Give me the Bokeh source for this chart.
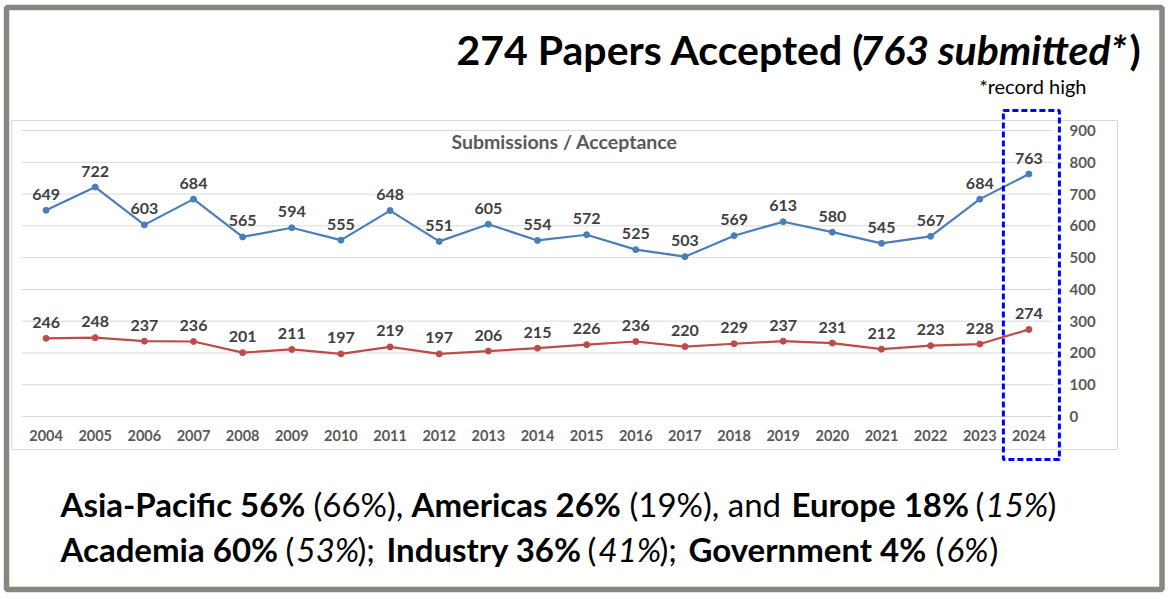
from bokeh.plotting import figure
from bokeh.models import (ColumnDataSource, LabelSet, Label, BoxAnnotation, FixedTicker,
                          Range1d, LinearAxis, Grid)
from bokeh.embed import file_html
from bokeh.resources import INLINE
from bokeh.core.properties import value

# ---------------- data ----------------
years = [2004, 2005, 2006, 2007, 2008, 2009, 2010, 2011, 2012, 2013, 2014,
         2015, 2016, 2017, 2018, 2019, 2020, 2021, 2022, 2023, 2024]
submitted = [649, 722, 603, 684, 565, 594, 555, 648, 551, 605, 554, 572, 525, 503, 569, 613, 580, 545, 567, 684, 763]
accepted = [246, 248, 237, 236, 201, 211, 197, 219, 197, 206, 215, 226, 236, 220, 229, 237, 231, 212, 223, 228, 274]
y_ticks = [0, 100, 200, 300, 400, 500, 600, 700, 800, 900]
highlight_year = 2024

title_parts = [("274 Papers Accepted (", "bold", 456), ("763 submitted*", "bold italic", 859), (")", "bold", 1129)]
note_text = "*record high"
chart_title = "Submissions / Acceptance"
line1_parts = [("Asia-Pacific 56%", "bold", 60), ("(66%),", "normal", 313), ("Americas  26%", "bold", 411),
               ("(19%), and", "normal", 629), ("Europe 18%", "bold", 791), ("(", "normal", 975),
               ("15%", "italic", 985), (")", "normal", 1047)]
line2_parts = [("Academia 60%", "bold", 60), ("(", "normal", 285), ("53%", "italic", 296), (");", "normal", 357),
               ("Industry 36%", "bold", 386), ("(", "normal", 587), ("41%", "italic", 598), (");", "normal", 659),
               ("Government 4%", "bold", 688), ("(", "normal", 935), ("6%", "italic", 946), (")", "normal", 989)]

BLUE = "#4A7EBB"
RED = "#BE4B48"
FONT = "Lato"

# ---------------- layout (pixels) ----------------
W, H = 1168, 598
PLOT_L, PLOT_R = 21, 1053      # left/right edges of the year slots
PLOT_T, PLOT_B = 130, 416      # pixel rows of y=900 and y=0
YMIN, YMAX = y_ticks[0], y_ticks[-1]

px_per_year = (PLOT_R - PLOT_L) / len(years)
x_start = years[0] - 0.5 - PLOT_L / px_per_year
x_end = years[-1] + 0.5 + (W - PLOT_R) / px_per_year
px_per_unit = (PLOT_B - PLOT_T) / (YMAX - YMIN)
y_start = YMIN - (H - PLOT_B) / px_per_unit
y_end = YMAX + PLOT_T / px_per_unit

src = ColumnDataSource(dict(
    year=years, sub=submitted, acc=accepted,
    sub_t=[str(v) for v in submitted], acc_t=[str(v) for v in accepted],
))

p = figure(width=W, height=H, x_range=Range1d(x_start, x_end), y_range=Range1d(y_start, y_end),
           x_axis_location=None, y_axis_location=None, output_backend="svg", toolbar_location=None,
           min_border=0)
p.background_fill_color = "white"
p.border_fill_color = "white"
p.outline_line_color = None
p.center = [r for r in p.center if not isinstance(r, Grid)]

# horizontal gridlines over the year slots
grid_src = ColumnDataSource(dict(x0=[years[0] - 0.5] * len(y_ticks), x1=[years[-1] + 0.5] * len(y_ticks),
                                 y=y_ticks))
p.segment(x0="x0", x1="x1", y0="y", y1="y", source=grid_src, line_color="#d9d9d9", line_width=1)

# axes drawn at fixed locations inside the page
xaxis = LinearAxis(ticker=FixedTicker(ticks=years), fixed_location=YMIN)
yaxis = LinearAxis(ticker=FixedTicker(ticks=y_ticks), fixed_location=years[-1] + 0.5)
for ax in (xaxis, yaxis):
    ax.axis_line_color = None
    ax.major_tick_line_color = None
    ax.minor_tick_line_color = None
    ax.major_tick_out = 0
    ax.major_tick_in = 0
    ax.major_label_text_font = FONT
    ax.major_label_text_font_style = "bold"
    ax.major_label_text_color = "#595959"
xaxis.major_label_text_font_size = "14.5px"
yaxis.major_label_text_font_size = "15px"
xaxis.major_label_standoff = 13
yaxis.major_label_standoff = 16
p.add_layout(xaxis, "below")
p.add_layout(yaxis, "right")

p.line(x="year", y="sub", source=src, line_color=BLUE, line_width=2.2)
p.scatter(x="year", y="sub", source=src, size=6, color=BLUE)
p.line(x="year", y="acc", source=src, line_color=RED, line_width=2.2)
p.scatter(x="year", y="acc", source=src, size=6, color=RED)

for col, ycol in (("sub_t", "sub"), ("acc_t", "acc")):
    p.add_layout(LabelSet(x="year", y=ycol, text=col, source=src, text_align="center",
                          text_baseline="middle", y_offset=16, text_font=value(FONT),
                          text_font_style="bold", text_font_size="16px", text_color="#404040"))

def canvas_box(l, r, t, b, **kw):
    return BoxAnnotation(left=l, right=r, top=t, bottom=b, left_units="canvas", right_units="canvas",
                         top_units="canvas", bottom_units="canvas", fill_alpha=0, line_alpha=1, **kw)

# outer slide border
p.add_layout(canvas_box(6, 1161.5, 7, 589, line_color="#878782", line_width=5.5, level="overlay"))
# inner chart box
p.add_layout(canvas_box(11, 1117, 120, 449, line_color="#d9d9d9", line_width=1, level="underlay"))
# highlight box around the latest year
p.add_layout(BoxAnnotation(left=highlight_year - 0.52, right=highlight_year + 0.62, top=110, bottom=459,
                           top_units="canvas", bottom_units="canvas", fill_alpha=0, line_alpha=1,
                           line_color="#0000FF", line_width=3, line_dash="6 3", level="overlay"))

# chart title
p.add_layout(Label(x=564, y=141, x_units="canvas", y_units="canvas", text=chart_title,
                   text_align="center", text_baseline="middle", text_font=FONT,
                   text_font_style="bold", text_font_size="19.5px", text_color="#595959"))

def add_parts(parts, yc, size):
    for txt, style, x in parts:
        p.add_layout(Label(x=x, y=yc, x_units="canvas", y_units="canvas", text=txt,
                           text_align="left", text_baseline="middle", text_font=FONT,
                           text_font_style=style, text_font_size=size, text_color="black"))

add_parts(title_parts, 49, "41px")
p.add_layout(Label(x=1086, y=85, x_units="canvas", y_units="canvas", text=note_text,
                   text_align="right", text_baseline="middle", text_font=FONT,
                   text_font_size="20px", text_color="black"))
add_parts(line1_parts, 503, "33px")
add_parts(line2_parts, 548, "33px")

open("out.html", "w").write(file_html(p, INLINE))
